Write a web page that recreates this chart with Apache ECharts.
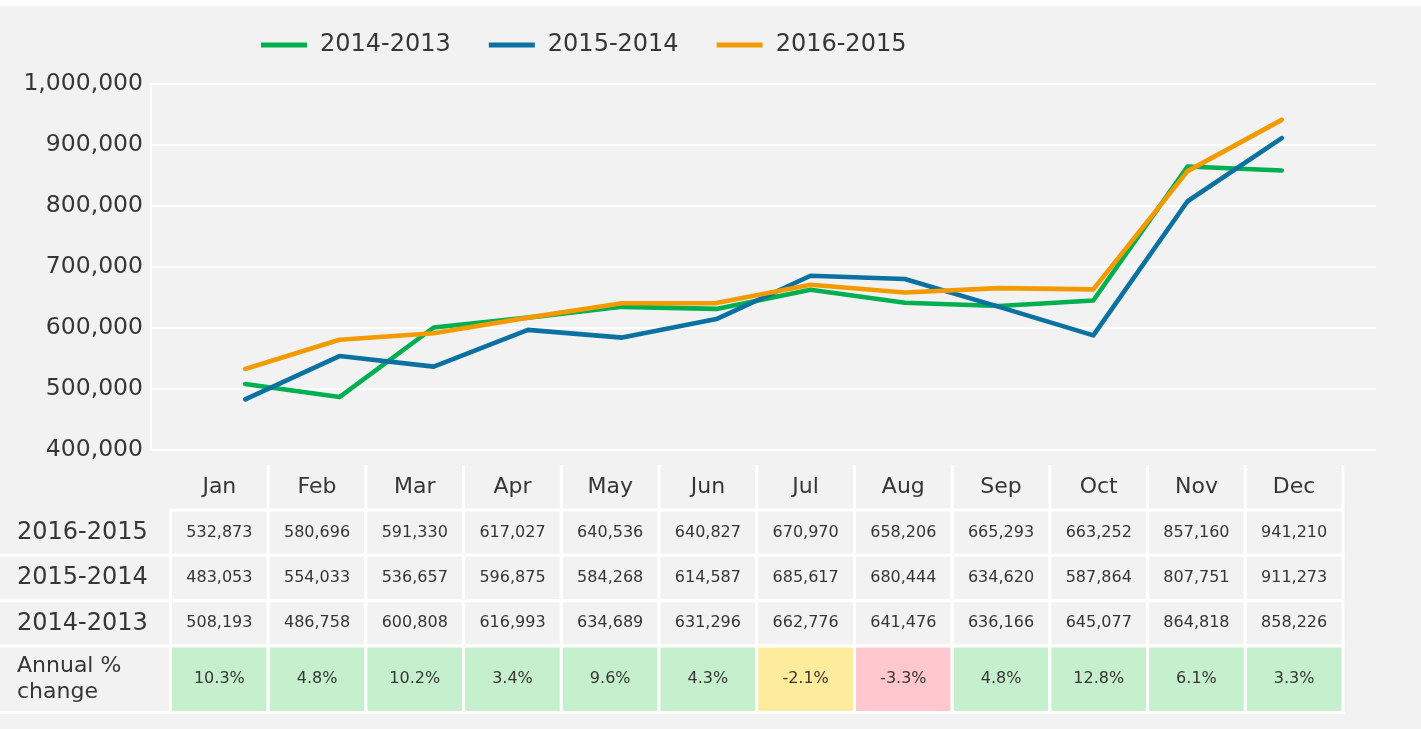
<!DOCTYPE html>
<html>
<head>
<meta charset="utf-8">
<script src="https://cdn.jsdelivr.net/npm/echarts@6/dist/echarts.min.js"></script>
<style>
  html, body { margin: 0; padding: 0; background: #ffffff; }
  #chart { position: absolute; left: 0; top: 6px; width: 1421px; height: 723px; background: #f2f2f2; }
</style>
</head>
<body>
<div id="chart"></div>
<script>
const months = ["Jan", "Feb", "Mar", "Apr", "May", "Jun", "Jul", "Aug", "Sep", "Oct", "Nov", "Dec"];
const seriesNames = ["2014-2013", "2015-2014", "2016-2015"];
const values20142013 = [508193, 486758, 600808, 616993, 634689, 631296, 662776, 641476, 636166, 645077, 864818, 858226];
const values20152014 = [483053, 554033, 536657, 596875, 584268, 614587, 685617, 680444, 634620, 587864, 807751, 911273];
const values20162015 = [532873, 580696, 591330, 617027, 640536, 640827, 670970, 658206, 665293, 663252, 857160, 941210];
const annualChange = [10.3, 4.8, 10.2, 3.4, 9.6, 4.3, -2.1, -3.3, 4.8, 12.8, 6.1, 3.3];
const tableRows = ["2016-2015", "2015-2014", "2014-2013"];
const changeLabel = "Annual %\nchange";
const yTicks = { min: 400000, max: 1000000, step: 100000 };

const FONT = "DejaVu Sans";
const TEXT = "#363636";
const colors = { "2014-2013": "#00b050", "2015-2014": "#0a71a0", "2016-2015": "#f39a00" };
const rowValues = [values20162015, values20152014, values20142013];

const fmt = (v) => Number(v).toLocaleString("en-US");
const changeFill = (v) => (v >= 0 ? "#c6efce" : v > -3 ? "#ffeb9c" : "#ffc7ce");

const cellBox = (api) => {
  const c = api.coord([api.value(0), api.value(1)]);
  const s = api.size([1, 1]);
  return { cx: c[0], cy: c[1], x: c[0] - s[0] / 2, y: c[1] - s[1] / 2, w: s[0], h: s[1] };
};

const textEl = (x, y, text, size, align, lineHeight) => ({
  type: "text",
  x, y,
  style: {
    text, fill: TEXT, fontSize: size, fontFamily: FONT,
    align, verticalAlign: "middle", lineHeight: lineHeight || size,
  },
});

// value cells: filled rect with white border and centred text
const renderValueCell = (fillOf, textOf) => (params, api) => {
  const b = cellBox(api);
  const v = api.value(2);
  return {
    type: "group",
    children: [
      {
        type: "rect",
        shape: { x: b.x, y: b.y, width: b.w, height: b.h },
        style: { fill: fillOf(v), stroke: "#ffffff", lineWidth: 3 },
      },
      textEl(b.cx, b.cy, textOf(v), 16, "center"),
    ],
  };
};

// row labels sit left of the grid, from the chart edge to the first column
const renderRowLabel = (names, size, lineHeight) => (params, api) => {
  const b = cellBox(api);
  const gx = params.coordSys.x;
  return {
    type: "group",
    children: [
      { type: "line", shape: { x1: 0, y1: b.y + b.h, x2: gx, y2: b.y + b.h }, style: { stroke: "#ffffff", lineWidth: 3 } },
      { type: "line", shape: { x1: gx, y1: b.y + 4, x2: gx, y2: b.y + b.h }, style: { stroke: "#ffffff", lineWidth: 3 } },
      textEl(17, b.cy, names[api.value(1)], size, "left", lineHeight),
    ],
  };
};

const renderHeader = (params, api) => {
  const b = cellBox(api);
  return {
    type: "group",
    children: [
      { type: "line", shape: { x1: b.x + b.w, y1: b.y, x2: b.x + b.w, y2: b.y + b.h }, style: { stroke: "#ffffff", lineWidth: 3 } },
      textEl(b.cx, b.cy, months[api.value(0)], 22, "center"),
    ],
  };
};

const tableLeft = 170.5;
const tableWidth = 1172.5;

const chart = echarts.init(document.getElementById("chart"));
chart.setOption({
  animation: false,
  backgroundColor: "#f2f2f2",
  legend: {
    data: seriesNames,
    left: 261,
    top: 25,
    padding: 0,
    icon: "rect",
    itemWidth: 46,
    itemHeight: 5,
    itemGap: 38,
    textStyle: { color: TEXT, fontSize: 24, fontFamily: FONT, lineHeight: 28, padding: [0, 0, 0, 8] },
  },
  grid: [
    { left: 151, top: 78, width: 1225, height: 366 },
    { left: tableLeft, top: 459, width: tableWidth, height: 45 },
    { left: tableLeft, top: 504, width: tableWidth, height: 136 },
    { left: tableLeft, top: 640, width: tableWidth, height: 66.5 },
  ],
  xAxis: [
    { type: "value", gridIndex: 0, min: -1, max: 12, show: false },
    { type: "category", gridIndex: 1, data: months, show: false },
    { type: "category", gridIndex: 2, data: months, show: false },
    { type: "category", gridIndex: 3, data: months, show: false },
  ],
  yAxis: [
    {
      type: "value", gridIndex: 0,
      min: yTicks.min, max: yTicks.max, interval: yTicks.step,
      axisLine: { show: true, onZero: false, lineStyle: { color: "#ffffff", width: 2 } },
      axisTick: { show: false },
      axisLabel: { color: TEXT, fontSize: 23.5, fontFamily: FONT, margin: 8, formatter: fmt },
      splitLine: { lineStyle: { color: "#ffffff", width: 2 } },
    },
    { type: "category", gridIndex: 1, data: ["month"], show: false },
    { type: "category", gridIndex: 2, data: tableRows, inverse: true, show: false },
    { type: "category", gridIndex: 3, data: [changeLabel], show: false },
  ],
  series: [
    ...seriesNames.map((name, k) => ({
      name,
      type: "line",
      xAxisIndex: 0,
      yAxisIndex: 0,
      data: [values20142013, values20152014, values20162015][k].map((v, i) => [i, v]),
      showSymbol: false,
      symbol: "none",
      color: colors[name],
      lineStyle: { color: colors[name], width: 4.6, cap: "round", join: "round" },
    })),
    {
      type: "custom", xAxisIndex: 1, yAxisIndex: 1,
      data: months.map((m, i) => [i, 0]),
      renderItem: renderHeader,
    },
    {
      type: "custom", xAxisIndex: 2, yAxisIndex: 2,
      data: rowValues.flatMap((row, r) => row.map((v, c) => [c, r, v])),
      renderItem: renderValueCell(() => "#f2f2f2", fmt),
    },
    {
      type: "custom", xAxisIndex: 2, yAxisIndex: 2,
      data: tableRows.map((n, r) => [0, r]),
      renderItem: renderRowLabel(tableRows, 24),
    },
    {
      type: "custom", xAxisIndex: 3, yAxisIndex: 3,
      data: annualChange.map((v, c) => [c, 0, v]),
      renderItem: renderValueCell(changeFill, (v) => v.toFixed(1) + "%"),
    },
    {
      type: "custom", xAxisIndex: 3, yAxisIndex: 3,
      data: [[0, 0]],
      renderItem: renderRowLabel([changeLabel], 22, 26),
    },
  ],
});
</script>
</body>
</html>
